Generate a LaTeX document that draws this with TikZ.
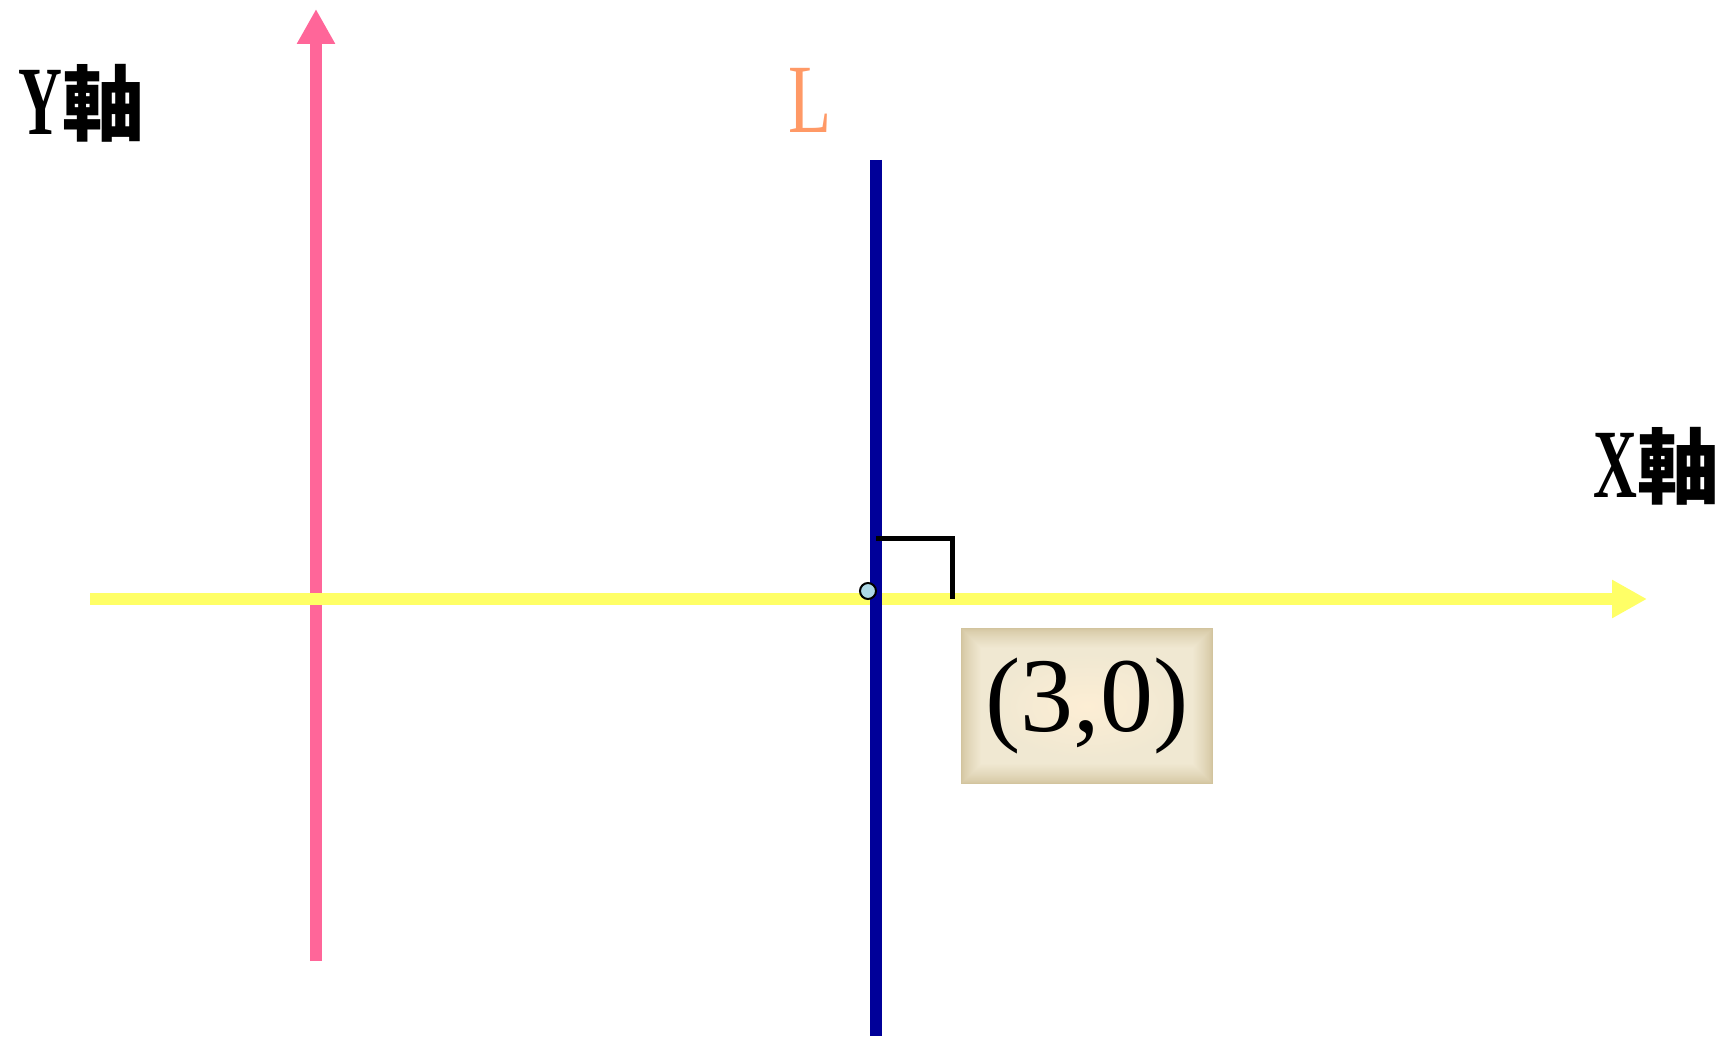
\documentclass[tikz,border=0pt]{standalone}
\usepackage{fontspec}
\usepackage{graphicx}
\setmainfont{Liberation Serif}
\newfontfamily\cjk{Noto Sans CJK TC}
\usepackage{tikz}
\usetikzlibrary{arrows.meta,positioning,calc,backgrounds}
\definecolor{axisY}{RGB}{255,102,153}
\definecolor{axisX}{RGB}{255,255,102}
\definecolor{lineL}{RGB}{0,0,153}
\definecolor{labelL}{RGB}{255,153,102}
\definecolor{boxEdge}{RGB}{210,196,158}
\definecolor{boxSoft}{RGB}{240,232,210}
\definecolor{boxMid}{RGB}{253,238,212}
\definecolor{ptFill}{RGB}{173,216,230}
\newcommand{\axisword}[1]{\scalebox{0.62}[1]{#1}{\cjk\bfseries\fontsize{82}{84}\selectfont 軸}}

\begin{document}
\begin{tikzpicture}[x=1pt,y=-1pt,
    axislabel/.style={font=\fontsize{98}{100}\selectfont\bfseries, inner sep=0pt, anchor=base west},
    axisarrow/.style={line width=12pt, -{Triangle[width=36pt,length=35pt]}}]
    \useasboundingbox (0,0) rectangle (1725,1040);
    % Axes
    \coordinate (ybot) at (316,961);
    \coordinate (ytop) at (316,9);
    \coordinate (xleft) at (90,599);
    \coordinate (xright) at (1647,599);
    \draw[axisarrow, axisY] (ybot) -- (ytop);
    \draw[axisarrow, axisX] (xleft) -- (xright);
    \node[axislabel] (ylab) at (18,135) {\axisword{Y}};
    \node[axislabel] (xlab) at (1593,497) {\axisword{X}};
    % Line L: x = 3
    \coordinate (ltop) at (876,160);
    \coordinate (lbot) at (876,1036);
    \draw[line width=12pt, lineL] (ltop) -- (lbot);
    \node[labelL, inner sep=0pt, anchor=base west, font=\fontsize{98}{100}\selectfont] (llab) at (788,133) {\scalebox{0.72}[1]{L}};
    % Right angle mark
    \coordinate (ra1) at (876,538);
    \coordinate (ra2) at (952,538);
    \coordinate (ra3) at (952,599);
    \draw[line width=5pt, miter limit=10] (ra1) -- (ra2) -- (ra3);
    % Intersection point
    \node[circle, draw=black, line width=2pt, fill=ptFill, minimum size=16pt, inner sep=0pt] (pt) at (868,591) {};
    % Coordinate box
    \node[minimum width=251pt, minimum height=155pt, inner sep=0pt,
          font=\fontsize{106}{110}\selectfont] (coord) at (1087,706) {(3,0)};
    \begin{scope}[on background layer]
      \foreach \i in {0,...,20}{
        \pgfmathtruncatemacro{\pc}{100*(\i/20)^0.7}
        \fill[boxSoft!\pc!boxEdge] ($(coord.north west)+(\i,\i)$) rectangle ($(coord.south east)-(\i,\i)$);
      }
      \shade[inner color=boxMid, outer color=boxSoft] (coord.center) ellipse (95 and 52);
    \end{scope}
\end{tikzpicture}
\end{document}
